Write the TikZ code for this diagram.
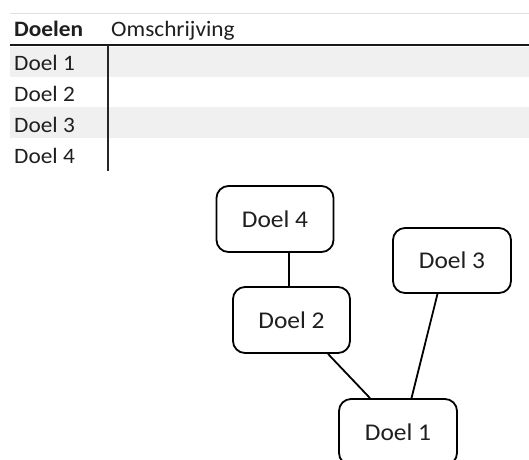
\documentclass[tikz,border=0pt]{standalone}
\usepackage{fontspec}
\setmainfont[FakeStretch=1.06]{Carlito}
\begin{document}
\begin{tikzpicture}[x=1pt,y=-1pt,
  celltext/.style={anchor=base west, inner sep=0pt, text=black!88,
    font=\fontsize{22}{26}\selectfont},
  goalbox/.style={draw, line width=1.8pt, rounded corners=12pt,
    minimum width=117pt, minimum height=66pt, inner sep=0pt,
    font=\fontsize{24}{28}\selectfont, text=black!88},
  link/.style={line width=1.8pt}]
\useasboundingbox (0,0) rectangle (529,459);
\fill[white] (0,0) rectangle (529,459);

% table: striped rows, rules and texts
\fill[black!6] (10,47) rectangle (529,77);
\fill[black!6] (10,107) rectangle (529,138);
\draw[black!12, line width=1pt] (10,13.5) -- (529,13.5);
\draw[black!90, line width=2.4pt] (10,45) -- (529,45);
\coordinate (colsep) at (108,45);
\coordinate (colend) at (108,171);
\draw[black!85, line width=1.4pt] (colsep) -- (colend);

\node[celltext, font=\fontsize{22}{26}\selectfont\bfseries] (hgoal) at (14,36) {Doelen};
\node[celltext] (hdesc) at (111,36) {Omschrijving};
\node[celltext] (r1) at (14,70.5) {Doel 1};
\node[celltext] (r2) at (14,101.5) {Doel 2};
\node[celltext] (r3) at (14,132.5) {Doel 3};
\node[celltext] (r4) at (14,163.5) {Doel 4};

% goal diagram
\node[goalbox] (d4) at (275,219) {Doel 4};
\node[goalbox, minimum width=118pt, minimum height=65pt] (d3) at (452,260.5) {Doel 3};
\node[goalbox] (d2) at (291.5,320) {Doel 2};
\node[goalbox, minimum width=118pt] (d1) at (398,432) {Doel 1};

\coordinate (x42) at (289,0);
\coordinate (x21a) at (328,0);
\coordinate (x21b) at (370,0);
\coordinate (x31a) at (437.5,0);
\coordinate (x31b) at (411.5,0);
\draw[link] (d4.south -| x42) -- (d2.north -| x42);
\draw[link] (d2.south -| x21a) -- (d1.north -| x21b);
\draw[link] (d3.south -| x31a) -- (d1.north -| x31b);
\end{tikzpicture}
\end{document}
